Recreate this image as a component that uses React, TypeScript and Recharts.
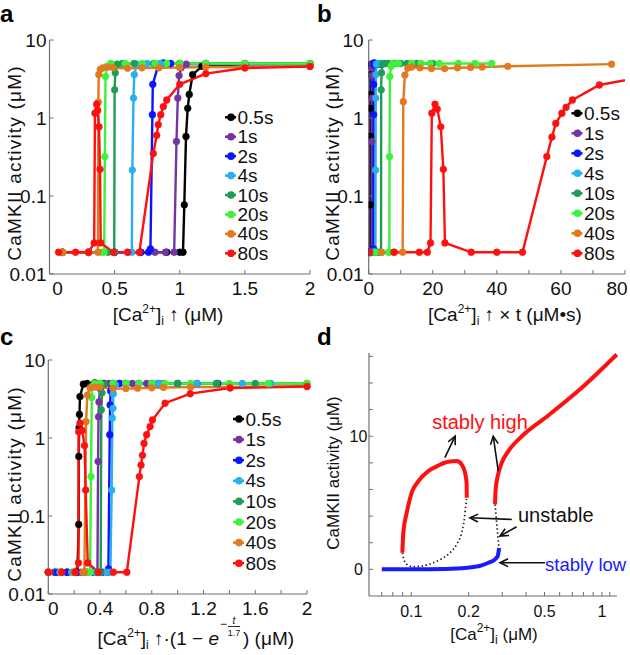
import React from 'react';
import { LineChart, Line, XAxis, YAxis, ReferenceLine } from 'recharts';

type Pt = [number, number];

const FONT = '"Liberation Sans", Arial, Helvetica, sans-serif';
const AXIS = '#6f6f6f';

const DURATIONS = ['0.5s', '1s', '2s', '4s', '10s', '20s', '40s', '80s'];
const COLORS = ['#000000', '#7434a4', '#0a14ff', '#28b0ee', '#1f9d55', '#3cf23c', '#e2791e', '#ff1010'];

// panel a : CaMKII vs [Ca]
const A_05: Pt[] = [[0.1, 0.019], [0.3, 0.019], [0.5, 0.019], [0.7, 0.019], [0.9, 0.019], [1.0, 0.019], [1.025, 0.019], [1.035, 0.077], [1.048, 0.58], [1.061, 1.33], [1.073, 2.0], [1.099, 3.6], [1.17, 4.6], [1.5, 4.9], [2.0, 4.9]];
const A_1: Pt[] = [[0.1, 0.019], [0.3, 0.019], [0.5, 0.019], [0.7, 0.019], [0.81, 0.019], [0.89, 0.019], [0.957, 0.019], [0.975, 0.5], [0.985, 1.8], [0.995, 3.5], [1.01, 4.4], [1.05, 4.9], [1.2, 4.9], [1.5, 4.9], [2.0, 4.9]];
const A_2: Pt[] = [[0.1, 0.019], [0.3, 0.019], [0.5, 0.019], [0.7, 0.019], [0.76, 0.019], [0.775, 0.021], [0.79, 1.1], [0.793, 2.7], [0.835, 4.8], [0.874, 5.1], [0.93, 5.0], [1.0, 4.95], [1.2, 4.9], [1.5, 4.9], [2.0, 4.9]];
const A_4: Pt[] = [[0.1, 0.019], [0.3, 0.019], [0.5, 0.019], [0.6, 0.019], [0.632, 0.019], [0.636, 0.215], [0.645, 1.8], [0.651, 3.6], [0.67, 4.9], [0.75, 5.0], [0.85, 5.0], [1.0, 5.0], [1.2, 5.0], [1.5, 5.0], [2.0, 5.0]];
const A_10: Pt[] = [[0.1, 0.019], [0.3, 0.019], [0.45, 0.019], [0.497, 0.019], [0.5, 2.3], [0.505, 3.8], [0.52, 4.9], [0.56, 5.0], [0.65, 5.0], [0.8, 5.0], [1.0, 5.0], [1.2, 5.0], [1.5, 5.0], [2.0, 5.0]];
const A_20: Pt[] = [[0.1, 0.019], [0.3, 0.019], [0.4, 0.019], [0.42, 0.019], [0.425, 0.32], [0.43, 3.4], [0.44, 4.6], [0.47, 5.0], [0.58, 5.0], [0.71, 5.0], [0.81, 5.0], [0.9, 5.0], [1.0, 5.0], [1.2, 5.0], [1.5, 5.0], [2.0, 5.0]];
const A_40: Pt[] = [[0.1, 0.019], [0.3, 0.019], [0.372, 0.019], [0.375, 1.6], [0.378, 3.6], [0.39, 4.2], [0.41, 4.4], [0.45, 4.5], [0.49, 4.4], [0.6, 4.35], [0.71, 4.4], [0.84, 4.4], [1.0, 4.45], [1.2, 4.5], [1.5, 4.5], [2.0, 4.6]];
const A_80: Pt[] = [[0.07, 0.019], [0.2, 0.019], [0.3, 0.019], [0.343, 0.025], [0.349, 1.15], [0.362, 1.5], [0.37, 1.25], [0.38, 0.77], [0.388, 0.22], [0.393, 0.025], [0.49, 0.019], [0.6, 0.019], [0.69, 0.019], [0.797, 0.35], [0.823, 0.6], [0.835, 0.82], [0.854, 1.1], [0.874, 1.4], [0.9, 1.7], [1.0, 2.7], [1.2, 3.7], [1.5, 4.37], [2.0, 4.57]];

// panel b : CaMKII vs [Ca] x t
const B_05: Pt[] = [[0.05, 0.019], [0.15, 0.019], [0.25, 0.019], [0.35, 0.019], [0.45, 0.019], [0.5, 0.019], [0.512, 0.019], [0.518, 0.077], [0.524, 0.58], [0.53, 1.33], [0.537, 2.0], [0.55, 3.6], [0.585, 4.6], [0.75, 4.9], [1.0, 4.9]];
const B_1: Pt[] = [[0.1, 0.019], [0.3, 0.019], [0.5, 0.019], [0.7, 0.019], [0.81, 0.019], [0.89, 0.019], [0.957, 0.019], [0.975, 0.5], [0.985, 1.8], [0.995, 3.5], [1.01, 4.4], [1.05, 4.9], [1.2, 4.9], [1.5, 4.9], [2.0, 4.9]];
const B_2: Pt[] = [[0.2, 0.019], [0.6, 0.019], [1.0, 0.019], [1.3, 0.019], [1.45, 0.019], [1.5, 0.021], [1.53, 1.1], [1.54, 2.7], [1.62, 4.8], [1.72, 5.1], [1.86, 5.0], [2.0, 4.95], [2.4, 4.9], [3.0, 4.9], [4.0, 4.9]];
const B_4: Pt[] = [[0.4, 0.019], [1.2, 0.019], [1.8, 0.019], [2.1, 0.019], [2.15, 0.215], [2.2, 1.8], [2.24, 3.6], [2.4, 4.9], [3.0, 5.0], [3.4, 5.0], [4.0, 5.0], [4.8, 5.0], [6.0, 5.0], [8.0, 5.0]];
const B_10: Pt[] = [[1, 0.019], [2, 0.019], [3, 0.019], [3.6, 0.019], [3.85, 0.019], [3.9, 2.3], [4.0, 3.8], [4.3, 4.9], [5.0, 5.0], [6.0, 5.0], [8.0, 5.0], [10, 5.0], [12, 5.0], [15, 5.0], [20, 5.0]];
const B_20: Pt[] = [[2, 0.019], [4, 0.019], [6.2, 0.019], [6.45, 0.019], [6.5, 0.32], [6.6, 3.4], [7.0, 4.6], [7.6, 5.0], [9.3, 5.0], [13.4, 5.0], [16.3, 5.0], [19.2, 5.0], [22, 5.0], [28, 5.0], [33.2, 5.0], [38.4, 5.0]];
const B_40: Pt[] = [[4, 0.019], [8, 0.019], [10.6, 0.019], [10.8, 1.62], [11.3, 3.55], [12.2, 4.37], [13.4, 4.5], [16, 4.4], [19.6, 4.3], [23.7, 4.3], [27.7, 4.4], [31.8, 4.45], [35.4, 4.5], [43.4, 4.6], [75.8, 4.9]];
const B_80: Pt[] = [[0.3, 0.019], [7.9, 0.019], [15.8, 0.019], [18.3, 0.019], [19.3, 0.025], [19.7, 1.15], [20.7, 1.5], [21.4, 1.3], [22.5, 0.77], [23.3, 0.22], [23.8, 0.025], [32, 0.019], [40, 0.019], [48, 0.019], [55.6, 0.32], [57.2, 0.57], [58.4, 0.85], [60.3, 1.15], [61.6, 1.37], [63.6, 1.7], [72, 2.65], [96, 4.0]];

// panel c : CaMKII vs [Ca](1 - exp(-t/1.7))
const C_05: Pt[] = [[0, 0.019], [0.05, 0.019], [0.1, 0.019], [0.15, 0.019], [0.2, 0.019], [0.225, 0.019], [0.235, 0.078], [0.236, 0.58], [0.238, 1.36], [0.241, 2.0], [0.245, 3.4], [0.271, 4.9], [0.3, 5.0], [0.36, 5.1], [0.43, 5.0], [0.5, 5.0]];
const C_1: Pt[] = [[0, 0.019], [0.05, 0.019], [0.1, 0.019], [0.15, 0.019], [0.2, 0.019], [0.25, 0.019], [0.3, 0.019], [0.35, 0.019], [0.38, 0.019], [0.385, 0.5], [0.388, 1.87], [0.392, 2.9], [0.4, 4.3], [0.43, 4.9], [0.47, 5.0], [0.55, 5.0], [0.65, 5.0], [0.76, 5.0], [0.89, 5.0]];
const C_2: Pt[] = [[0, 0.019], [0.07, 0.019], [0.14, 0.019], [0.21, 0.019], [0.28, 0.019], [0.35, 0.019], [0.42, 0.019], [0.46, 0.019], [0.465, 0.021], [0.475, 1.1], [0.478, 2.65], [0.482, 4.0], [0.5, 4.8], [0.55, 5.0], [0.6, 5.0], [0.7, 5.0], [0.85, 5.0], [1.0, 5.0], [1.15, 5.0], [1.31, 5.0]];
const C_4: Pt[] = [[0, 0.019], [0.09, 0.019], [0.18, 0.019], [0.27, 0.019], [0.36, 0.019], [0.45, 0.019], [0.48, 0.019], [0.49, 0.215], [0.495, 1.8], [0.5, 2.4], [0.503, 3.7], [0.52, 4.8], [0.6, 5.0], [0.7, 5.0], [0.85, 5.0], [1.0, 5.0], [1.15, 5.0], [1.3, 5.0], [1.5, 5.0], [1.72, 5.0]];
const C_10: Pt[] = [[0, 0.019], [0.1, 0.019], [0.2, 0.019], [0.3, 0.019], [0.38, 0.019], [0.405, 0.019], [0.41, 2.3], [0.415, 3.8], [0.43, 4.9], [0.5, 5.0], [0.6, 5.0], [0.8, 5.0], [1.0, 5.0], [1.3, 5.0], [1.6, 5.0], [2.0, 5.0]];
const C_20: Pt[] = [[0, 0.019], [0.1, 0.019], [0.2, 0.019], [0.3, 0.019], [0.323, 0.019], [0.33, 0.32], [0.336, 3.3], [0.34, 4.6], [0.36, 5.0], [0.4, 5.0], [0.5, 5.0], [0.6, 5.0], [0.7, 5.0], [0.8, 5.0], [0.9, 5.0], [1.1, 5.0], [1.4, 5.0], [1.7, 5.0], [2.0, 5.0]];
const C_40: Pt[] = [[0, 0.019], [0.1, 0.019], [0.2, 0.019], [0.27, 0.019], [0.279, 0.019], [0.292, 1.62], [0.302, 3.55], [0.323, 4.4], [0.36, 4.5], [0.4, 4.5], [0.5, 4.3], [0.6, 4.3], [0.69, 4.35], [0.8, 4.4], [0.89, 4.45], [1.1, 4.5], [1.4, 4.5], [2.0, 4.6]];
const C_80: Pt[] = [[0, 0.019], [0.104, 0.019], [0.207, 0.019], [0.233, 0.025], [0.235, 1.2], [0.245, 1.55], [0.262, 1.25], [0.28, 0.8], [0.289, 0.215], [0.305, 0.025], [0.387, 0.019], [0.503, 0.019], [0.607, 0.019], [0.704, 0.32], [0.717, 0.45], [0.728, 0.6], [0.74, 0.85], [0.76, 1.1], [0.787, 1.4], [0.805, 1.7], [0.903, 2.79], [1.097, 3.7], [1.406, 4.37], [2.0, 4.57]];

// panel d : steady states
const D_HIGH_LEFT: Pt[] = [[0.0898, 1.25], [0.0908, 2.75], [0.0946, 4.25], [0.1005, 5.76], [0.109, 6.63], [0.1228, 7.38], [0.1387, 7.8], [0.1564, 8.08], [0.1731, 8.13], [0.1838, 7.88], [0.1914, 7.26], [0.195, 6.5], [0.1955, 5.38]];
const D_UNSTABLE_LEFT: Pt[] = [[0.0898, 1.25], [0.0919, 0.63], [0.0965, 0.3], [0.1025, 0.2], [0.1134, 0.25], [0.128, 0.45], [0.1444, 0.8], [0.1596, 1.25], [0.1731, 1.88], [0.1838, 2.75], [0.1897, 3.75], [0.1929, 4.75], [0.1955, 5.38]];
const D_UNSTABLE_RIGHT: Pt[] = [[0.275, 4.88], [0.2886, 1.5]];
const D_HIGH_RIGHT: Pt[] = [[0.275, 4.88], [0.277, 6.0], [0.284, 7.0], [0.298, 8.0], [0.323, 8.88], [0.38, 10.0], [0.523, 11.56], [0.784, 13.64], [1.196, 16.14]];
const D_LOW: Pt[] = [[0.07, 0], [0.1, 0], [0.15, 0.03], [0.195, 0.12], [0.234, 0.3], [0.254, 0.5], [0.275, 0.75], [0.284, 1.0], [0.289, 1.6]];
const D_ARROWS: [Pt, Pt][] = [
  [[0.15, 8.39], [0.17, 10.0]],
  [[0.286, 7.38], [0.269, 10.0]],
  [[0.337, 3.75], [0.203, 3.88]],
  [[0.357, 3.2], [0.292, 2.5]],
  [[0.503, 0.5], [0.292, 0.5]],
];

// ticks
const LOG_TICKS = [0.01, 0.1, 1, 10];
const A_XTICKS = [0, 0.5, 1, 1.5, 2];
const B_XTICKS = [0, 10, 20, 30, 40, 50, 60, 70, 80];
const B_XLABELS = [0, 20, 40, 60, 80];
const C_XTICKS = [0, 0.2, 0.4, 0.6, 0.8, 1, 1.2, 1.4, 1.6, 1.8, 2];
const C_XLABELS = [0, 0.4, 0.8, 1.2, 1.6, 2];
const D_XTICKS = [0.07, 0.08, 0.09, 0.1, 0.2, 0.3, 0.4, 0.5, 0.6, 0.7, 0.8, 0.9, 1, 1.1];
const D_XLABELS = [0.1, 0.2, 0.5, 1];
const D_YTICKS = [0, 2, 4, 6, 8, 10, 12, 14, 16];
const D_YLABELS = [0, 10];

const toData = (pts: Pt[]) => pts.map(([x, y]) => ({ x, y }));
const has = (list: number[], v: number) => list.some((l) => Math.abs(l - v) < 1e-9);

const XTick = (props: any) => {
  const { x, y, payload, labels, fs, zeroDx = 0, lastDx = 0, last, off } = props;
  const v = payload.value;
  const dx = v === 0 ? zeroDx : v === last ? lastDx : 0;
  return (
    <g>
      <line x1={x} y1={y} x2={x} y2={y - 4} stroke={AXIS} strokeWidth={1} />
      {has(labels, v) && (
        <text x={x + dx} y={y + off} textAnchor="middle" fontSize={fs} fontFamily={FONT} fill="#111">
          {String(v)}
        </text>
      )}
    </g>
  );
};

const YTick = (props: any) => {
  const { x, y, payload, labels, fs, gap, anchor = 'end' } = props;
  const v = payload.value;
  return (
    <g>
      <line x1={x} y1={y} x2={x + 4} y2={y} stroke={AXIS} strokeWidth={1} />
      {has(labels, v) && (
        <text x={x - gap} y={y + fs * 0.36} textAnchor={anchor} fontSize={fs} fontFamily={FONT} fill="#111">
          {String(v)}
        </text>
      )}
    </g>
  );
};

const ArrowShape = (p: any) => {
  const { x1, y1, x2, y2 } = p;
  if ([x1, y1, x2, y2].some((v) => typeof v !== 'number' || isNaN(v))) return <g />;
  const a = Math.atan2(y2 - y1, x2 - x1);
  const L = 9;
  const s = 0.45;
  const p1 = `${x2 - L * Math.cos(a - s)},${y2 - L * Math.sin(a - s)}`;
  const p2 = `${x2 - L * Math.cos(a + s)},${y2 - L * Math.sin(a + s)}`;
  return (
    <g>
      <line x1={x1} y1={y1} x2={x2} y2={y2} stroke="#111" strokeWidth={1.6} />
      <polyline points={`${p1} ${x2},${y2} ${p2}`} fill="none" stroke="#111" strokeWidth={1.6} />
    </g>
  );
};

type PanelProps = {
  left: number; top: number; w: number; h: number;
  margin: { top: number; right: number; bottom: number; left: number };
  yW: number;
  xDomain: [number, number];
  xTicks: number[];
  xLabels: number[];
  zeroDx: number;
  lastDx?: number;
  yGap: number;
  series: Pt[][];
  overflow?: boolean;
};

function TimePanel(p: PanelProps) {
  const last = p.xTicks[p.xTicks.length - 1];
  return (
    <div style={{ position: 'absolute', left: p.left, top: p.top }}>
      <LineChart width={p.w} height={p.h} margin={p.margin}>
        <XAxis
          type="number"
          dataKey="x"
          domain={p.xDomain}
          ticks={p.xTicks}
          interval={0}
          allowDataOverflow={!!p.overflow}
          height={30}
          axisLine={{ stroke: AXIS, strokeWidth: 1.2 }}
          tickLine={false}
          tickSize={0}
          tickMargin={0}
          tick={(t: any) => (
            <XTick {...t} labels={p.xLabels} fs={19} zeroDx={p.zeroDx} lastDx={p.lastDx || 0} last={last} off={21} />
          )}
        />
        <YAxis
          type="number"
          scale="log"
          domain={[0.01, 10]}
          ticks={LOG_TICKS}
          interval={0}
          width={p.yW}
          axisLine={{ stroke: AXIS, strokeWidth: 1.2 }}
          tickLine={false}
          tickSize={0}
          tickMargin={0}
          tick={(t: any) => <YTick {...t} labels={LOG_TICKS} fs={19} gap={p.yGap} />}
        />
        {p.series.map((pts, i) => (
          <Line
            key={DURATIONS[i]}
            name={DURATIONS[i]}
            data={toData(pts)}
            dataKey="y"
            type="linear"
            stroke={COLORS[i]}
            strokeWidth={2.4}
            dot={{ r: 3.4, fill: COLORS[i], stroke: COLORS[i], strokeWidth: 0.5 }}
            activeDot={false}
            isAnimationActive={false}
          />
        ))}
      </LineChart>
    </div>
  );
}

function SteadyPanel() {
  return (
    <div style={{ position: 'absolute', left: 315, top: 320 }}>
      <LineChart width={315} height={335} margin={{ top: 33, right: 13, bottom: 29, left: 0 }}>
        <XAxis
          type="number"
          dataKey="x"
          scale="log"
          domain={[0.06, 1.2]}
          ticks={D_XTICKS}
          interval={0}
          height={30}
          axisLine={{ stroke: AXIS, strokeWidth: 1.2 }}
          tickLine={false}
          tickSize={0}
          tickMargin={0}
          tick={(t: any) => <XTick {...t} labels={D_XLABELS} fs={16} off={21} />}
        />
        <YAxis
          type="number"
          domain={[-2, 16.25]}
          ticks={D_YTICKS}
          interval={0}
          width={54}
          axisLine={{ stroke: AXIS, strokeWidth: 1.2 }}
          tickLine={false}
          tickSize={0}
          tickMargin={0}
          tick={(t: any) => <YTick {...t} labels={D_YLABELS} fs={16} gap={10.5} anchor="middle" />}
        />
        <Line data={toData(D_UNSTABLE_LEFT)} dataKey="y" type="monotone" stroke="#222" strokeWidth={1.7} strokeDasharray="1.5 2.5" dot={false} activeDot={false} isAnimationActive={false} />
        <Line data={toData(D_UNSTABLE_RIGHT)} dataKey="y" type="linear" stroke="#222" strokeWidth={1.7} strokeDasharray="1.5 2.5" dot={false} activeDot={false} isAnimationActive={false} />
        <Line data={toData(D_LOW)} dataKey="y" type="monotone" stroke="#1a1aff" strokeWidth={4} dot={false} activeDot={false} isAnimationActive={false} />
        <Line data={toData(D_HIGH_LEFT)} dataKey="y" type="monotone" stroke="#ff1010" strokeWidth={4} dot={false} activeDot={false} isAnimationActive={false} />
        <Line data={toData(D_HIGH_RIGHT)} dataKey="y" type="monotone" stroke="#ff1010" strokeWidth={4} dot={false} activeDot={false} isAnimationActive={false} />
        {D_ARROWS.map(([a, b], i) => (
          <ReferenceLine
            key={i}
            segment={[{ x: a[0], y: a[1] }, { x: b[0], y: b[1] }]}
            ifOverflow="visible"
            shape={ArrowShape}
          />
        ))}
      </LineChart>
    </div>
  );
}

function Legend({ x, y, step }: { x: number; y: number; step: number }) {
  return (
    <g>
      {DURATIONS.map((d, i) => {
        const cy = y + step * i;
        return (
          <g key={d}>
            <line x1={x} x2={x + 11} y1={cy} y2={cy} stroke={COLORS[i]} strokeWidth={2.5} />
            <circle cx={x + 6} cy={cy} r={3.8} fill={COLORS[i]} />
            <text x={x + 12.5} y={cy + 6.5} fontSize={19} fontFamily={FONT} fill="#111">{d}</text>
          </g>
        );
      })}
    </g>
  );
}

function YTitle({ x, y, size, spacing = 0 }: { x: number; y: number; size: number; spacing?: number }) {
  return (
    <text
      x={x}
      y={y}
      transform={`rotate(-90 ${x} ${y})`}
      textAnchor="middle"
      fontSize={size}
      fontFamily={FONT}
      letterSpacing={spacing}
      fill="#111"
    >
      CaMKII activity (μM)
    </text>
  );
}

function CaLabel({ x, y, size, rest, anchor = 'middle', children }: any) {
  return (
    <text x={x} y={y} textAnchor={anchor} fontSize={size} fontFamily={FONT} fill="#111">
      [Ca<tspan dy={-8} fontSize={12}>2+</tspan>
      <tspan dy={8}>]</tspan>
      <tspan dy={4} fontSize={12}>i</tspan>
      <tspan dy={-4}>{rest}</tspan>
      {children}
    </text>
  );
}

function Overlay() {
  return (
    <svg width={630} height={655} style={{ position: 'absolute', left: 0, top: 0, pointerEvents: 'none' }}>
      <g fontFamily={FONT} fontWeight="bold" fontSize={24} fill="#000">
        <text x={0} y={22}>a</text>
        <text x={317} y={22}>b</text>
        <text x={0} y={345}>c</text>
        <text x={317} y={345}>d</text>
      </g>

      <YTitle x={21} y={163} size={19} spacing={1.2} />
      <YTitle x={339} y={163} size={19} spacing={1.2} />
      <YTitle x={21} y={484} size={19} spacing={1.2} />
      <YTitle x={339} y={473} size={17} />

      <CaLabel x={168} y={321} size={19} rest=" ↑ (μM)" />
      <CaLabel x={505} y={321} size={19} rest=" ↑ × t (μM•s)" />

      <CaLabel x={219} y={645} size={19} rest=" ↑·(1 − " anchor="end">
        <tspan fontStyle="italic">e</tspan>
      </CaLabel>
      <text x={220} y={628} fontSize={12} fontFamily={FONT} fill="#111">−</text>
      <text x={234} y={624} textAnchor="middle" fontSize={10} fontFamily={FONT} fontStyle="italic" fill="#111">t</text>
      <line x1={228} x2={240} y1={626.5} y2={626.5} stroke="#111" strokeWidth={0.9} />
      <text x={234} y={636} textAnchor="middle" fontSize={9} fontFamily={FONT} fill="#111">1.7</text>
      <text x={243} y={645} fontSize={19} fontFamily={FONT} fill="#111">) (μM)</text>

      <CaLabel x={494} y={640} size={17} rest="  (μM)" />

      <Legend x={225} y={117.3} step={19.43} />
      <Legend x={571.5} y={113.3} step={20} />
      <Legend x={233} y={419} step={20.6} />

      <text x={480} y={429} textAnchor="middle" fontSize={20} fontFamily={FONT} fill="#ff1010">stably high</text>
      <text x={518} y={522} fontSize={20} fontFamily={FONT} fill="#111">unstable</text>
      <text x={545} y={571} fontSize={18.5} fontFamily={FONT} fill="#1a1aff">stably low</text>
    </svg>
  );
}

export default function App() {
  return (
    <div style={{ position: 'absolute', left: 0, top: 0, width: 630, height: 655, background: '#fff', overflow: 'hidden' }}>
      <TimePanel
        left={0} top={0} w={315} h={320}
        margin={{ top: 40, right: 5, bottom: 16, left: 0 }}
        yW={49.5} xDomain={[0, 2]} xTicks={A_XTICKS} xLabels={A_XTICKS} zeroDx={8} yGap={3}
        series={[A_05, A_1, A_2, A_4, A_10, A_20, A_40, A_80]}
      />
      <TimePanel
        left={315} top={0} w={315} h={320}
        margin={{ top: 40, right: 5, bottom: 16, left: 0 }}
        yW={53.7} xDomain={[0, 80]} xTicks={B_XTICKS} xLabels={B_XLABELS} zeroDx={0} lastDx={-8} yGap={5}
        series={[B_05, B_1, B_2, B_4, B_10, B_20, B_40, B_80]} overflow
      />
      <TimePanel
        left={0} top={320} w={315} h={335}
        margin={{ top: 40, right: 8, bottom: 31, left: 0 }}
        yW={48.3} xDomain={[0, 2]} xTicks={C_XTICKS} xLabels={C_XLABELS} zeroDx={5} yGap={3}
        series={[C_05, C_1, C_2, C_4, C_10, C_20, C_40, C_80]}
      />
      <SteadyPanel />
      <Overlay />
    </div>
  );
}
